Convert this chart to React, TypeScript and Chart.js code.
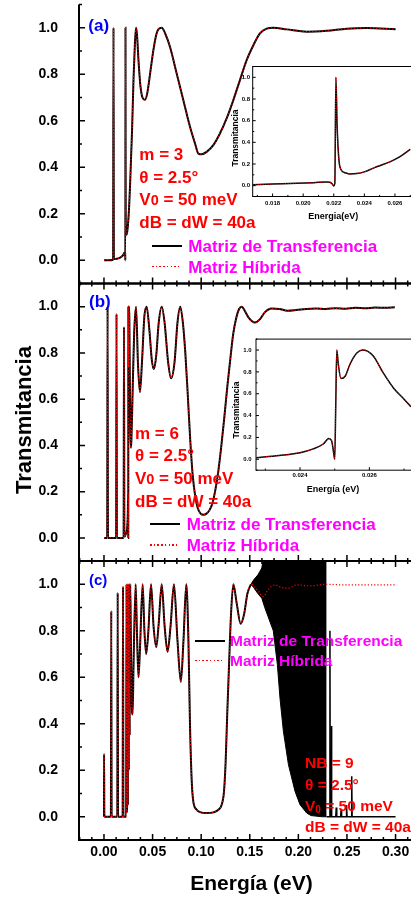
import React, { useEffect, useRef } from 'react';
import { Chart, registerables } from 'chart.js';

Chart.register(...registerables);

const FONT = '"Liberation Sans", Arimo, Arial, Helvetica, sans-serif';
const W = 411;
const H = 897;

// ---------- axis ticks ----------
const X_TICKS = [0, 0.05, 0.1, 0.15, 0.2, 0.25, 0.3];
const Y_TICKS = [0, 0.2, 0.4, 0.6, 0.8, 1.0];
const INSET_A_X_TICKS = [0.018, 0.02, 0.022, 0.024, 0.026];
const INSET_B_X_TICKS = [0.024, 0.026];
const X_MIN = -0.0257;
const X_MAX = 0.3159;

// ---------- panel (a): m = 3 ----------
const A_X = [0, 0.0051, 0.0094, 0.0098, 0.0102, 0.0132, 0.0162, 0.0193, 0.0213, 0.0218, 0.022, 0.02214, 0.02225, 0.0224,
  0.0228, 0.0233, 0.024, 0.025, 0.026, 0.027, 0.0289, 0.0304, 0.0318, 0.033, 0.034, 0.0355, 0.0375, 0.0396, 0.0422,
  0.0446, 0.0477, 0.0507, 0.0538, 0.0563, 0.0594, 0.0635, 0.0679, 0.0748, 0.0816, 0.0885, 0.0937, 0.0971, 0.1006,
  0.1056, 0.1125, 0.1193, 0.1262, 0.1331, 0.1399, 0.1468, 0.1537, 0.1605, 0.1674, 0.1742, 0.188, 0.2086, 0.2291,
  0.2497, 0.2703, 0.3];
const A_Y = [0, 0, 0.002, 1.0, 0.005, 0.006, 0.01, 0.02, 0.033, 0.03, 0.0, 1.0, 0.5, 0.18,
  0.12, 0.11, 0.125, 0.17, 0.24, 0.34, 0.56, 0.78, 0.93, 1.0, 0.97, 0.86, 0.75, 0.7, 0.69,
  0.72, 0.81, 0.9, 0.97, 0.995, 1.0, 0.97, 0.918, 0.803, 0.689, 0.574, 0.502, 0.459, 0.456,
  0.466, 0.495, 0.545, 0.61, 0.689, 0.775, 0.861, 0.925, 0.976, 0.996, 1.0, 0.993, 0.983, 0.987,
  0.996, 0.999, 0.994];

// ---------- panel (b): m = 6 ----------
const B_X = [0, 0.0033, 0.0037, 0.0041, 0.0125, 0.0129, 0.0133, 0.0202, 0.0206, 0.021, 0.0223, 0.024, 0.0245, 0.02483,
  0.02491, 0.02496, 0.025, 0.02503, 0.02506, 0.0251, 0.02518, 0.0253, 0.02544, 0.02563, 0.0258, 0.0261, 0.0264, 0.0267,
  0.027, 0.0272, 0.0276, 0.0282, 0.0294, 0.031, 0.033, 0.035, 0.037, 0.0391, 0.0416, 0.0439, 0.0467, 0.0492, 0.0514,
  0.0538, 0.0563, 0.0594, 0.0624, 0.066, 0.069, 0.0726, 0.0756, 0.0785, 0.0812, 0.0837, 0.0862, 0.0888, 0.0913, 0.0939,
  0.0964, 0.0994, 0.1025, 0.1055, 0.1086, 0.1116, 0.1147, 0.1177, 0.1208, 0.1238, 0.1268, 0.1299, 0.1329, 0.136, 0.139,
  0.1417, 0.1451, 0.1492, 0.1553, 0.1603, 0.1654, 0.1725, 0.1806, 0.1887, 0.1979, 0.208, 0.2182, 0.2283, 0.2385, 0.2486,
  0.2587, 0.2689, 0.279, 0.2892, 0.2993];
const B_Y = [0, 0, 1.0, 0, 0, 0.968, 0, 0, 0.912, 0.005, 0.015, 0.05, 0.1, 0.19,
  0.17, 0.08, 0.0, 0.5, 1.0, 0.88, 0.74, 0.76, 0.87, 0.97, 1.0, 0.95, 0.79, 0.65,
  0.55, 0.48, 0.39, 0.42, 0.62, 0.88, 1.0, 0.75, 0.63, 0.76, 0.96, 1.0, 0.9, 0.77, 0.73,
  0.79, 0.93, 1.0, 0.93, 0.76, 0.69, 0.76, 0.93, 1.0, 0.93, 0.8, 0.62, 0.42, 0.27, 0.18,
  0.13, 0.105, 0.1, 0.105, 0.12, 0.15, 0.21, 0.29, 0.4, 0.52, 0.65, 0.77, 0.88, 0.95, 0.99,
  1.0, 0.98, 0.95, 0.931, 0.945, 0.975, 0.992, 0.99, 0.982, 0.985, 0.99, 0.992, 0.99, 0.993, 0.991,
  0.995, 0.993, 0.996, 0.995, 0.997];

// ---------- panel (c): NB = 9 ----------
const C_X = [0, 0.0001, 0.0004, 0.0071, 0.0075, 0.0079, 0.0137, 0.0141, 0.0145, 0.0192, 0.0196, 0.02, 0.0228, 0.0232,
  0.0235, 0.0239, 0.0243, 0.0247, 0.0252, 0.0256, 0.0261, 0.0265, 0.027, 0.0276, 0.0285, 0.0295, 0.0304, 0.0326, 0.034,
  0.0355, 0.037, 0.0398, 0.0416, 0.0434, 0.0457, 0.0484, 0.051, 0.0538, 0.0563, 0.0594, 0.0624, 0.0654, 0.0685, 0.072,
  0.0756, 0.0791, 0.0817, 0.0847, 0.0869, 0.0885, 0.0903, 0.0919, 0.0954, 0.0988, 0.1055, 0.1126, 0.1177, 0.1211,
  0.1235, 0.1252, 0.1268, 0.1287, 0.1307, 0.1331, 0.1365, 0.1406, 0.1441, 0.1476, 0.1512];
const C_Y = [0, 0.27, 0, 0, 0.885, 0, 0, 0.964, 0, 0, 0.99, 0, 0, 1.0,
  0.02, 0.14, 1.0, 0.05, 1.0, 0.2, 1.0, 0.35, 1.0, 0.8, 0.5, 0.44, 0.65, 1.0, 0.78,
  0.6, 0.72, 1.0, 0.8, 0.7, 0.8, 1.0, 0.82, 0.73, 0.83, 1.0, 0.82, 0.71, 0.82, 1.0,
  0.76, 0.58, 0.75, 1.0, 0.756, 0.397, 0.152, 0.066, 0.03, 0.02, 0.016, 0.019, 0.03, 0.052,
  0.109, 0.238, 0.44, 0.655, 0.87, 1.0, 0.92, 0.83, 0.87, 0.96, 1.0];
// hybrid-matrix continuation
const C_RED_X = [0.1512, 0.1558, 0.1588, 0.164, 0.1691, 0.176, 0.1826, 0.1898, 0.1983, 0.212, 0.2291, 0.2462, 0.2703, 0.3];
const C_RED_Y = [1.0, 0.985, 0.971, 0.947, 0.978, 0.997, 0.986, 0.983, 0.997, 0.993, 1.0, 0.997, 0.997, 0.997];
// transfer-matrix dense oscillation band (envelopes)
const BAND_X = [0.1512, 0.1542, 0.1583, 0.1624, 0.1654, 0.1742, 0.1784, 0.1811, 0.1846, 0.1898, 0.1966, 0.2017, 0.2086, 0.2131, 0.2244, 0.2291];
const BAND_TOP = [1.0, 1.02, 1.04, 1.07, 1.15, 1.15, 1.15, 1.15, 1.15, 1.15, 1.15, 1.15, 1.15, 1.15, 1.15, 1.15];
const BAND_BOT = [1.0, 0.985, 0.96, 0.94, 0.9, 0.8, 0.655, 0.51, 0.368, 0.224, 0.109, 0.052, 0.016, 0.005, 0.0, 0.0];
// transfer-matrix tail after the band
const C_BLK_X = [0.2291, 0.2322, 0.2325, 0.2328, 0.2336, 0.234, 0.2345, 0.2385, 0.239, 0.2395, 0.2435, 0.244, 0.2445,
  0.2491, 0.2496, 0.2501, 0.2545, 0.2549, 0.2553, 0.3];
const C_BLK_Y = [0, 0, 0.8, 0, 0, 0.39, 0, 0, 0.04, 0, 0, 0.03, 0, 0, 0.05, 0, 0, 0.174, 0, 0];

// ---------- insets ----------
const IA_X = [0.0167, 0.018, 0.0196, 0.0207, 0.0215, 0.02175, 0.0219, 0.022, 0.02207, 0.02214, 0.02222, 0.0224, 0.02273,
  0.02306, 0.0235, 0.024, 0.0248, 0.02567, 0.02633, 0.0270];
const IA_Y = [0.009, 0.015, 0.022, 0.028, 0.034, 0.031, 0.015, -0.003, 0.02, 1.0, 0.55, 0.175, 0.12,
  0.108, 0.112, 0.127, 0.175, 0.22, 0.268, 0.335];
const IB_X = [0.02273, 0.0234, 0.024, 0.02438, 0.02467, 0.02483, 0.02491, 0.02496, 0.025, 0.02503, 0.02506, 0.0251,
  0.02518, 0.0253, 0.02544, 0.02563, 0.0258, 0.0261, 0.0264, 0.0267, 0.027, 0.0272];
const IB_Y = [0.015, 0.035, 0.06, 0.095, 0.14, 0.19, 0.17, 0.08, 0.0, 0.5, 1.0, 0.88,
  0.74, 0.76, 0.87, 0.97, 1.0, 0.95, 0.79, 0.65, 0.55, 0.48];

const xy = (xs: number[], ys: number[]) => xs.map((x, i) => ({ x, y: ys[i] }));

const blackDs = (data: any[], w = 2) => ({
  data, borderColor: '#000', borderWidth: w, pointRadius: 0, fill: false,
  cubicInterpolationMode: 'monotone', order: 1,
});
const redDs = (data: any[], w = 1.2, dash = [1.2, 2]) => ({
  data, borderColor: '#ff0000', borderWidth: w, borderDash: dash, pointRadius: 0, fill: false,
  cubicInterpolationMode: 'monotone', order: 0,
});

const framePlugin = {
  id: 'frame',
  beforeDatasetsDraw(chart: any, _a: any, o: any) {
    if (!o || !o.bg) return;
    const { ctx, chartArea: ca } = chart;
    ctx.save();
    ctx.fillStyle = o.bg;
    ctx.fillRect(ca.left, ca.top, ca.right - ca.left, ca.bottom - ca.top);
    ctx.restore();
  },
  afterDatasetsDraw(chart: any, _a: any, o: any) {
    const { ctx, chartArea: ca, scales } = chart;
    const xs = scales.x;
    const ys = scales.y;
    ctx.save();
    ctx.strokeStyle = '#000';
    ctx.lineWidth = o.lw;
    ctx.beginPath();
    ctx.moveTo(ca.left, ca.top - (o.topLine ? o.lw / 2 : 0));
    ctx.lineTo(ca.left, ca.bottom + o.lw / 2);
    ctx.moveTo(ca.left, ca.bottom);
    ctx.lineTo(ca.right + 5, ca.bottom);
    if (o.topLine) {
      ctx.moveTo(ca.left, ca.top);
      ctx.lineTo(ca.right + 5, ca.top);
    }
    ctx.stroke();
    ctx.lineWidth = o.tw;
    ctx.beginPath();
    const k0 = Math.ceil(xs.min / o.xMinor - 1e-6);
    const k1 = Math.floor(xs.max / o.xMinor + 1e-6);
    for (let k = k0; k <= k1; k++) {
      const v = k * o.xMinor;
      const r = v / o.xMajor;
      const len = Math.abs(r - Math.round(r)) < 1e-6 ? o.maj : o.min;
      const p = xs.getPixelForValue(v);
      ctx.moveTo(p, ca.bottom);
      ctx.lineTo(p, ca.bottom - len);
      if (o.topTicks) {
        ctx.moveTo(p, ca.top);
        ctx.lineTo(p, ca.top + len);
      }
    }
    const j0 = Math.ceil(ys.min / o.yMinor - 1e-6);
    const j1 = Math.floor(ys.max / o.yMinor + 1e-6);
    for (let j = j0; j <= j1; j++) {
      const v = j * o.yMinor;
      const r = v / o.yMajor;
      const len = Math.abs(r - Math.round(r)) < 1e-6 ? o.maj : o.min;
      const p = ys.getPixelForValue(v);
      ctx.moveTo(ca.left, p);
      ctx.lineTo(ca.left + len, p);
    }
    ctx.stroke();
    ctx.restore();
  },
};

const zeroPad = (s: any) => {
  s.paddingLeft = 0; s.paddingRight = 0; s.paddingTop = 0; s.paddingBottom = 0;
};

function mainConfig(datasets: any[], top: number, bottom: number, showX: boolean, topLine: boolean) {
  const xH = showX ? 22 : 0;
  return {
    type: 'line',
    data: { datasets },
    plugins: [framePlugin],
    options: {
      animation: false, responsive: false, maintainAspectRatio: false, events: [],
      layout: { padding: { left: 0, right: 0, top, bottom: H - bottom - xH } },
      plugins: {
        legend: { display: false }, tooltip: { enabled: false },
        frame: { lw: 2, tw: 1.5, maj: 6, min: 3, xMinor: 0.0125, xMajor: 0.05, yMinor: 0.1, yMajor: 0.2, topLine, topTicks: topLine },
      },
      scales: {
        x: {
          type: 'linear', position: 'bottom', min: X_MIN, max: X_MAX,
          grid: { display: false, drawTicks: false, tickLength: 0 }, border: { display: false },
          ticks: {
            display: showX, color: '#000', padding: 3.6, maxRotation: 0, autoSkip: false,
            font: { family: FONT, size: 14, weight: 'bold' },
            callback: (v: any) => Number(v).toFixed(2),
          },
          afterBuildTicks: (s: any) => { s.ticks = X_TICKS.map((value) => ({ value })); },
          afterFit: (s: any) => { s.height = xH; zeroPad(s); },
        },
        y: {
          type: 'linear', position: 'left', min: -0.1, max: 1.1,
          grid: { display: false, drawTicks: false, tickLength: 0 }, border: { display: false },
          ticks: {
            color: '#000', padding: 21, autoSkip: false,
            font: { family: FONT, size: 14, weight: 'bold' },
            callback: (v: any) => Number(v).toFixed(1),
          },
          afterBuildTicks: (s: any) => { s.ticks = Y_TICKS.map((value) => ({ value })); },
          afterFit: (s: any) => { s.width = 79; zeroPad(s); },
        },
      },
    },
  };
}

function insetConfig(datasets: any[], xMin: number, xMax: number, xTicks: number[], left: number, top: number,
  bottom: number, yPad: number, xPad: number) {
  const yW = 30;
  const xH = 14;
  return {
    type: 'line',
    data: { datasets },
    plugins: [framePlugin],
    options: {
      animation: false, responsive: false, maintainAspectRatio: false, events: [],
      layout: { padding: { left: left - yW, right: 0, top, bottom: H - bottom - xH } },
      plugins: {
        legend: { display: false }, tooltip: { enabled: false },
        frame: { bg: '#fff', lw: 1, tw: 1, maj: 3, min: 1.6, xMinor: 0.001, xMajor: 0.002, yMinor: 0.1, yMajor: 0.2, topLine: true, topTicks: false },
      },
      scales: {
        x: {
          type: 'linear', position: 'bottom', min: xMin, max: xMax,
          grid: { display: false, drawTicks: false, tickLength: 0 }, border: { display: false },
          ticks: {
            color: '#000', padding: xPad, maxRotation: 0, autoSkip: false,
            font: { family: FONT, size: 6, weight: 'bold' },
            callback: (v: any) => Number(v).toFixed(3),
          },
          afterBuildTicks: (s: any) => { s.ticks = xTicks.map((value) => ({ value })); },
          afterFit: (s: any) => { s.height = xH; zeroPad(s); },
        },
        y: {
          type: 'linear', position: 'left', min: -0.1, max: 1.1,
          grid: { display: false, drawTicks: false, tickLength: 0 }, border: { display: false },
          ticks: {
            color: '#000', padding: yPad, autoSkip: false,
            font: { family: FONT, size: 6, weight: 'bold' },
            callback: (v: any) => Number(v).toFixed(1),
          },
          afterBuildTicks: (s: any) => { s.ticks = Y_TICKS.map((value) => ({ value })); },
          afterFit: (s: any) => { s.width = yW; zeroPad(s); },
        },
      },
    },
  };
}

function ChartCanvas({ make }: { make: () => any }) {
  const ref = useRef<HTMLCanvasElement>(null);
  useEffect(() => {
    const chart = new Chart(ref.current as HTMLCanvasElement, make());
    return () => chart.destroy();
  }, []);
  return (
    <canvas ref={ref} width={W} height={H}
      style={{ position: 'absolute', left: 0, top: 0, width: W, height: H }} />
  );
}

const Txt = ({ x, y, size, color = '#000', center = false, rotate = false, children }: any) => (
  <div style={{
    position: 'absolute', left: x, top: y, fontSize: size, color, fontWeight: 'bold', lineHeight: 1,
    whiteSpace: 'nowrap', fontFamily: FONT,
    transform: rotate ? 'translate(-50%,-50%) rotate(-90deg)' : center ? 'translate(-50%,-50%)' : 'translateY(-50%)',
  }}>{children}</div>
);

const LineSample = ({ x, y, w, dotted }: any) => (
  <div style={{
    position: 'absolute', left: x, top: y - 1, width: w, height: dotted ? 1.5 : 2,
    background: dotted ? 'repeating-linear-gradient(to right, #ff0000 0 1.5px, transparent 1.5px 3.7px)' : '#000',
  }} />
);

const RED = '#ff0000';
const MAG = '#ff00ff';
const BLUE = '#0000ff';

function Params({ x, ys, size, first, sub }: any) {
  return (
    <>
      <Txt x={x} y={ys[0]} size={size} color={RED}>{first}</Txt>
      <Txt x={x} y={ys[1]} size={size} color={RED}>θ = 2.5°</Txt>
      <Txt x={x} y={ys[2]} size={size} color={RED}>
        V<span style={sub ? { fontSize: '0.65em', position: 'relative', top: '0.25em' } : { fontSize: '0.85em' }}>0</span> = 50 meV
      </Txt>
      <Txt x={x} y={ys[3]} size={size} color={RED}>dB = dW = 40a</Txt>
    </>
  );
}

function Legend({ lx, tx, y1, y2, size }: any) {
  return (
    <>
      <LineSample x={lx} y={y1} w={30} />
      <Txt x={tx} y={y1} size={size} color={MAG}>Matriz de Transferencia</Txt>
      <LineSample x={lx} y={y2} w={30} dotted />
      <Txt x={tx} y={y2} size={size} color={MAG}>Matriz Híbrida</Txt>
    </>
  );
}

export default function App() {
  const makeA = () => mainConfig([redDs(xy(A_X, A_Y)), blackDs(xy(A_X, A_Y))], 4.5, 283.5, false, false);
  const makeB = () => mainConfig([redDs(xy(B_X, B_Y)), blackDs(xy(B_X, B_Y))], 283.5, 561, false, true);
  const makeC = () => mainConfig([
    redDs(xy(C_X, C_Y).concat(xy(C_RED_X, C_RED_Y))),
    blackDs(xy(C_X, C_Y)),
    { data: xy(BAND_X, BAND_TOP), borderColor: '#000', borderWidth: 1, pointRadius: 0, fill: false, order: 2 },
    { data: xy(BAND_X, BAND_BOT), borderColor: '#000', borderWidth: 1, pointRadius: 0, fill: '-1', backgroundColor: '#000', order: 3 },
    { ...blackDs(xy(C_BLK_X, C_BLK_Y), 1.5), cubicInterpolationMode: 'default', tension: 0 },
  ], 561, 840, true, true);
  const makeIA = () => insetConfig([redDs(xy(IA_X, IA_Y), 1, [1, 1.5]), blackDs(xy(IA_X, IA_Y), 1.5)],
    0.0167, 0.02705, INSET_A_X_TICKS, 252.7, 66.5, 196.5, 2.7, 3.2);
  const makeIB = () => insetConfig([redDs(xy(IB_X, IB_Y), 1, [1, 1.5]), blackDs(xy(IB_X, IB_Y), 1.5)],
    0.02273, 0.0272, INSET_B_X_TICKS, 256, 339.1, 470.2, 4.3, 1.9);

  return (
    <div style={{ position: 'absolute', left: 0, top: 0, width: W, height: H, overflow: 'hidden', background: '#fff' }}>
      <ChartCanvas make={makeA} />
      <ChartCanvas make={makeB} />
      <ChartCanvas make={makeC} />
      <ChartCanvas make={makeIA} />
      <ChartCanvas make={makeIB} />

      {/* axis titles */}
      <Txt x={24} y={420} size={22} rotate>Transmitancia</Txt>
      <Txt x={251.5} y={882} size={21} center>Energía (eV)</Txt>

      {/* inset titles */}
      <Txt x={234.5} y={137.5} size={8.5} rotate>Transmitancia</Txt>
      <Txt x={333.3} y={215.5} size={9} center>Energia(eV)</Txt>
      <Txt x={236} y={410} size={8.5} rotate>Transmitancia</Txt>
      <Txt x={333} y={489} size={9} center>Energía (eV)</Txt>

      {/* panel labels */}
      <Txt x={88.3} y={25} size={17} color={BLUE}>(a)</Txt>
      <Txt x={89} y={301} size={17} color={BLUE}>(b)</Txt>
      <Txt x={89} y={579} size={15} color={BLUE}>(c)</Txt>

      {/* parameters */}
      <Params x={139.3} ys={[154, 176.5, 199, 221.7]} size={17} first="m = 3" />
      <Params x={135} ys={[432.5, 455, 478, 501]} size={17} first="m = 6" />
      <Params x={305} ys={[762.5, 785, 805.5, 826.7]} size={15.5} first="NB = 9" sub />

      {/* legends */}
      <Legend lx={151.7} tx={188.3} y1={245.7} y2={266.7} size={17} />
      <Legend lx={150} tx={186.7} y1={524.3} y2={545} size={17} />
      <Legend lx={195} tx={230} y1={640.7} y2={660.7} size={15.5} />
    </div>
  );
}
